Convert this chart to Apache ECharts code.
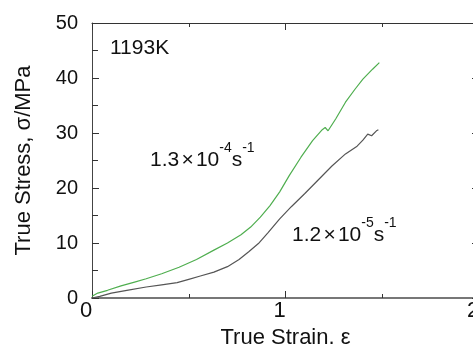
<!DOCTYPE html>
<html>
<head>
<meta charset="utf-8">
<script src="https://cdn.jsdelivr.net/npm/echarts@6/dist/echarts.min.js"></script>
<style>
  html, body { margin: 0; padding: 0; background: #fff; }
  #chart { width: 473px; height: 349px; }
</style>
</head>
<body>
<div id="chart"></div>
<script>
// strain / stress
var greenStrain = [0, 0.03, 0.08, 0.15, 0.22, 0.28, 0.36, 0.45, 0.54, 0.63, 0.70, 0.77, 0.82, 0.87, 0.92, 0.97, 1.02, 1.08, 1.14, 1.19, 1.205, 1.22, 1.26, 1.31, 1.36, 1.40, 1.45, 1.485];
var greenStress = [0.3, 0.9, 1.4, 2.2, 2.9, 3.5, 4.4, 5.6, 7.0, 8.7, 10.0, 11.5, 12.9, 14.7, 16.8, 19.3, 22.3, 25.6, 28.6, 30.6, 31.0, 30.4, 32.6, 35.6, 38.0, 39.8, 41.6, 42.8];
var grayStrain = [0, 0.04, 0.1, 0.18, 0.28, 0.36, 0.44, 0.50, 0.56, 0.63, 0.70, 0.76, 0.81, 0.86, 0.91, 0.97, 1.03, 1.10, 1.17, 1.24, 1.31, 1.37, 1.40, 1.425, 1.445, 1.47, 1.48];
var grayStress = [0, 0.3, 0.9, 1.4, 2.0, 2.4, 2.8, 3.4, 4.0, 4.7, 5.7, 7.0, 8.4, 9.9, 11.9, 14.4, 16.6, 19.0, 21.5, 24.0, 26.2, 27.6, 28.7, 29.8, 29.5, 30.4, 30.6];
var xTicks = [0, 1, 2];
var yTicks = [0, 10, 20, 30, 40, 50];

function pairs(xs, ys) {
  var out = [];
  for (var i = 0; i < xs.length; i++) out.push([xs[i], ys[i]]);
  return out;
}

var FONT = '"Liberation Sans", Arial, sans-serif';
var myChart = echarts.init(document.getElementById('chart'));

var xBase = {
  type: 'value', min: xTicks[0], max: xTicks[xTicks.length - 1], interval: 1,
  splitLine: { show: false },
  axisTick: { inside: true, length: 7, lineStyle: { color: '#333' } },
  minorTick: { show: true, splitNumber: 2, length: 4, lineStyle: { color: '#333' } }
};
var yBase = {
  type: 'value', min: yTicks[0], max: yTicks[yTicks.length - 1], interval: 10,
  splitLine: { show: false },
  axisTick: { inside: true, length: 7, lineStyle: { color: '#333' } },
  minorTick: { show: true, splitNumber: 2, length: 6, lineStyle: { color: '#333' } }
};

var supText = {
  b: { fontFamily: FONT, fontSize: 21, fill: '#111' },
  g: { fontFamily: FONT, fontSize: 8, fill: '#111' },
  p: { fontFamily: FONT, fontSize: 14, fill: '#111', padding: [0, 0, 24, 0] }
};

var option = {
  animation: false,
  grid: { left: 92, top: 23, right: -6, bottom: 51, containLabel: false, outerBoundsMode: 'none' },
  xAxis: [
    Object.assign({}, xBase, {
      position: 'bottom',
      axisLine: { onZero: false, lineStyle: { color: '#777', width: 2 } },
      axisLabel: { fontFamily: FONT, fontSize: 22, color: '#111', margin: 2, padding: [0, 12, 0, 0] },
      name: 'True Strain. ε', nameLocation: 'middle', nameGap: 28,
      nameTextStyle: { fontFamily: FONT, fontSize: 22, color: '#111' }
    }),
    Object.assign({}, xBase, {
      position: 'top',
      axisLine: { onZero: false, lineStyle: { color: '#333', width: 1 } },
      axisLabel: { show: false }
    })
  ],
  yAxis: [
    Object.assign({}, yBase, {
      position: 'left',
      axisLine: { onZero: false, lineStyle: { color: '#444', width: 1 } },
      axisLabel: { fontFamily: FONT, fontSize: 20, color: '#111', margin: 14 },
      name: 'True Stress, σ/MPa', nameLocation: 'middle', nameGap: 57,
      nameTextStyle: { fontFamily: FONT, fontSize: 22, color: '#111' }
    }),
    Object.assign({}, yBase, {
      position: 'right',
      axisLine: { onZero: false, lineStyle: { color: '#444', width: 1 } },
      axisLabel: { show: false }
    })
  ],
  series: [
    {
      name: '1.3e-4', type: 'line', showSymbol: false, symbol: 'none',
      data: pairs(greenStrain, greenStress),
      lineStyle: { color: '#4fae4f', width: 1.2 }
    },
    {
      name: '1.2e-5', type: 'line', showSymbol: false, symbol: 'none',
      data: pairs(grayStrain, grayStress),
      lineStyle: { color: '#555', width: 1.2 }
    }
  ],
  graphic: [
    {
      type: 'text', left: 110, top: 38,
      style: { text: '1193K', font: '21px ' + FONT, fill: '#111' }
    },
    {
      type: 'text', left: 150, top: 141,
      style: { text: '{b|1.3}{g| }{b|×}{g| }{b|10}{p|-4}{b|s}{p|-1}', rich: supText }
    },
    {
      type: 'text', left: 292, top: 216,
      style: { text: '{b|1.2}{g| }{b|×}{g| }{b|10}{p|-5}{b|s}{p|-1}', rich: supText }
    }
  ]
};
myChart.setOption(option);
</script>
</body>
</html>
